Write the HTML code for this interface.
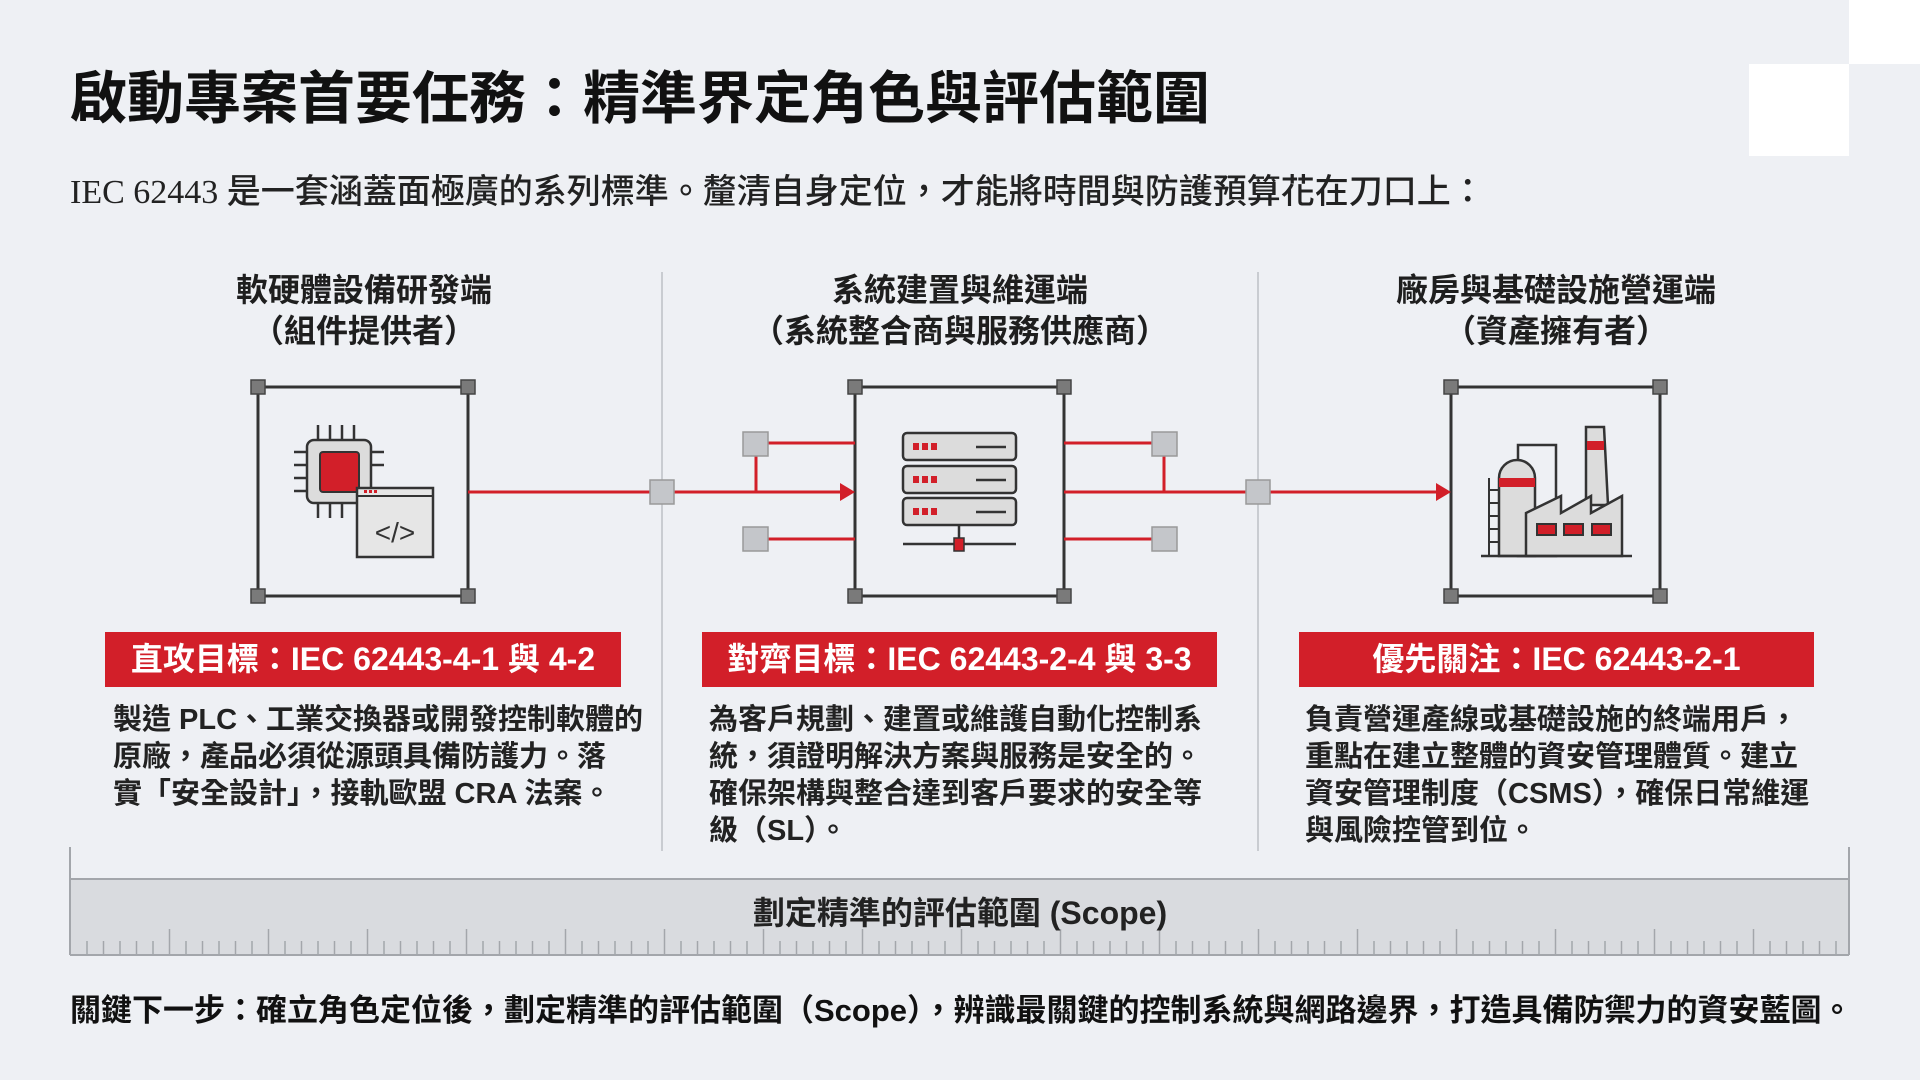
<!DOCTYPE html>
<html><head><meta charset="utf-8"><style>
body{margin:0;width:1920px;height:1080px;background:#eef0f4;overflow:hidden;position:relative;font-family:"Liberation Sans","Noto Sans CJK TC",sans-serif;color:#1e1e1e}
.a{position:absolute;white-space:nowrap}
.h{font-size:32px;font-weight:700;text-align:center;width:600px;line-height:41px}
.bar{position:absolute;top:632px;height:55px;background:#d21f29;color:#fff;font-size:32px;font-weight:700;text-align:center;line-height:55px}
.b{position:absolute;top:702px;font-size:29px;font-weight:700;line-height:37px;white-space:nowrap;color:#222}
</style></head><body>
<div class="a" style="left:1849px;top:0;width:71px;height:64px;background:#fff"></div>
<div class="a" style="left:1749px;top:64px;width:100px;height:92px;background:#fff"></div>
<div class="a" style="left:70px;top:64px;font-size:57px;font-weight:700;line-height:70px;color:#111">啟動專案首要任務：精準界定角色與評估範圍</div>
<div class="a" style="left:70px;top:170px;font-size:34px;line-height:44px;color:#222"><span style="font-family:'Liberation Serif',serif">IEC 62443 </span><span style="font-weight:500">是一套涵蓋面極廣的系列標準。釐清自身定位，才能將時間與防護預算花在刀口上：</span></div>

<div class="a h" style="left:64px;top:270px">軟硬體設備研發端<br>（組件提供者）</div>
<div class="a h" style="left:660px;top:270px">系統建置與維運端<br>（系統整合商與服務供應商）</div>
<div class="a h" style="left:1256px;top:270px">廠房與基礎設施營運端<br>（資產擁有者）</div>

<svg class="a" style="left:0;top:0" width="1920" height="1080">
<g stroke="#c9ccd1" stroke-width="2"><line x1="662" y1="272" x2="662" y2="851"/><line x1="1258" y1="272" x2="1258" y2="851"/></g>
<g stroke="#333" stroke-width="3" fill="none">
<rect x="258" y="387" width="210" height="209"/><rect x="855" y="387" width="209" height="209"/><rect x="1451" y="387" width="209" height="209"/></g>
<g fill="#7a7a7a" stroke="#444" stroke-width="1.5">
<rect x="251" y="380" width="14" height="14"/><rect x="461" y="380" width="14" height="14"/><rect x="251" y="589" width="14" height="14"/><rect x="461" y="589" width="14" height="14"/>
<rect x="848" y="380" width="14" height="14"/><rect x="1057" y="380" width="14" height="14"/><rect x="848" y="589" width="14" height="14"/><rect x="1057" y="589" width="14" height="14"/>
<rect x="1444" y="380" width="14" height="14"/><rect x="1653" y="380" width="14" height="14"/><rect x="1444" y="589" width="14" height="14"/><rect x="1653" y="589" width="14" height="14"/></g>
<g stroke="#d21f29" stroke-width="3" fill="none">
<line x1="468" y1="492" x2="842" y2="492"/><line x1="1064" y1="492" x2="1438" y2="492"/>
<line x1="756" y1="443" x2="855" y2="443"/><line x1="756" y1="539" x2="855" y2="539"/><line x1="756" y1="443" x2="756" y2="492"/>
<line x1="1064" y1="443" x2="1164" y2="443"/><line x1="1064" y1="539" x2="1164" y2="539"/><line x1="1164" y1="443" x2="1164" y2="492"/></g>
<polygon points="840,483 855,492 840,501" fill="#d21f29"/><polygon points="1436,483 1451,492 1436,501" fill="#d21f29"/>
<g fill="#c4c6ca" stroke="#999" stroke-width="1.5">
<rect x="650" y="480" width="24" height="24"/><rect x="1246" y="480" width="24" height="24"/>
<rect x="743" y="432" width="25" height="24"/><rect x="743" y="527" width="25" height="24"/>
<rect x="1152" y="432" width="25" height="24"/><rect x="1152" y="527" width="25" height="24"/></g>
<g stroke="#333" stroke-width="2.5" fill="none">
<line x1="318" y1="425" x2="318" y2="440"/><line x1="330" y1="425" x2="330" y2="440"/><line x1="342" y1="425" x2="342" y2="440"/><line x1="354" y1="425" x2="354" y2="440"/>
<line x1="318" y1="503" x2="318" y2="518"/><line x1="330" y1="503" x2="330" y2="518"/><line x1="342" y1="503" x2="342" y2="518"/>
<line x1="294" y1="452" x2="307" y2="452"/><line x1="294" y1="465" x2="307" y2="465"/><line x1="294" y1="478" x2="307" y2="478"/><line x1="294" y1="491" x2="307" y2="491"/>
<line x1="371" y1="452" x2="384" y2="452"/><line x1="371" y1="465" x2="384" y2="465"/></g>
<rect x="307" y="440" width="64" height="63" rx="7" fill="#dcdcdc" stroke="#333" stroke-width="2.5"/>
<rect x="320" y="452" width="39" height="40" rx="3" fill="#d21f29" stroke="#333" stroke-width="2"/>
<rect x="357" y="488" width="76" height="69" fill="#e6e6e6" stroke="#333" stroke-width="2.5"/>
<line x1="357" y1="496" x2="433" y2="496" stroke="#333" stroke-width="2"/>
<g fill="#d21f29"><rect x="364" y="490" width="3" height="3"/><rect x="369" y="490" width="3" height="3"/><rect x="374" y="490" width="3" height="3"/></g>
<text x="395" y="542" font-size="28" text-anchor="middle" fill="#333" font-family="Liberation Sans,sans-serif">&lt;/&gt;</text>
<g fill="#dcdcdc" stroke="#333" stroke-width="2.5">
<rect x="903" y="433" width="113" height="27" rx="4"/><rect x="903" y="466" width="113" height="27" rx="4"/><rect x="903" y="498" width="113" height="27" rx="4"/></g>
<g fill="#d21f29"><rect x="913" y="443" width="6" height="7"/><rect x="922" y="443" width="6" height="7"/><rect x="931" y="443" width="6" height="7"/>
<rect x="913" y="476" width="6" height="7"/><rect x="922" y="476" width="6" height="7"/><rect x="931" y="476" width="6" height="7"/>
<rect x="913" y="508" width="6" height="7"/><rect x="922" y="508" width="6" height="7"/><rect x="931" y="508" width="6" height="7"/></g>
<g stroke="#333" stroke-width="2.5"><line x1="976" y1="447" x2="1006" y2="447"/><line x1="976" y1="480" x2="1006" y2="480"/><line x1="976" y1="512" x2="1006" y2="512"/>
<line x1="959" y1="525" x2="959" y2="544"/><line x1="903" y1="544" x2="1016" y2="544"/></g>
<rect x="954" y="538" width="10" height="13" fill="#d21f29" stroke="#333" stroke-width="1.5"/>
<g stroke="#333" stroke-width="2.5" fill="#dcdcdc">
<rect x="1518" y="445" width="38" height="111" fill="none"/>
<path d="M1499 556 V478 A18 18 0 0 1 1535 478 V556 Z"/>
<path d="M1586 556 V427 H1604 L1608 505 H1586Z"/>
<path d="M1526 556 V513 L1561 496 V513 L1591 496 V513 L1622 496 V556 Z"/>
<line x1="1481" y1="556" x2="1632" y2="556"/>
<path d="M1489 478 V556 M1499 478 V556 M1489 490 H1499 M1489 503 H1499 M1489 516 H1499 M1489 529 H1499 M1489 542 H1499" fill="none" stroke-width="2"/></g>
<rect x="1499" y="478" width="36" height="9" fill="#d21f29"/><rect x="1587" y="441" width="17" height="9" fill="#d21f29"/>
<g fill="#d21f29" stroke="#333" stroke-width="2"><rect x="1537" y="524" width="19" height="11"/><rect x="1564" y="524" width="19" height="11"/><rect x="1592" y="524" width="19" height="11"/></g>
<rect x="70" y="879" width="1779" height="76" fill="#d9dbdf"/>
<g stroke="#a3a6ab" stroke-width="2"><line x1="70" y1="879" x2="1849" y2="879"/><line x1="70" y1="955" x2="1849" y2="955"/><line x1="70" y1="847" x2="70" y2="955"/><line x1="1849" y1="847" x2="1849" y2="955"/></g>
<g stroke="#a3a6ab" stroke-width="1.5" id="ticks"></g>
</svg>
<div class="a" style="left:0;width:1920px;top:892px;text-align:center;font-size:32px;font-weight:700;line-height:42px;color:#222">劃定精準的評估範圍 (Scope)</div>

<div class="bar" style="left:105px;width:516px">直攻目標：IEC 62443-4-1 與 4-2</div>
<div class="bar" style="left:702px;width:515px">對齊目標：IEC 62443-2-4 與 3-3</div>
<div class="bar" style="left:1299px;width:515px">優先關注：IEC 62443-2-1</div>

<div class="b" style="left:113px">製造 PLC、工業交換器或開發控制軟體的<br>原廠，產品必須從源頭具備防護力。落<br>實「安全設計」，接軌歐盟 CRA 法案。</div>
<div class="b" style="left:709px">為客戶規劃、建置或維護自動化控制系<br>統，須證明解決方案與服務是安全的。<br>確保架構與整合達到客戶要求的安全等<br>級（SL）。</div>
<div class="b" style="left:1305px">負責營運產線或基礎設施的終端用戶，<br>重點在建立整體的資安管理體質。建立<br>資安管理制度（CSMS），確保日常維運<br>與風險控管到位。</div>

<div class="a" style="left:70px;top:990px;font-size:31px;font-weight:700;line-height:42px;color:#111">關鍵下一步：確立角色定位後，劃定精準的評估範圍（Scope），辨識最關鍵的控制系統與網路邊界，打造具備防禦力的資安藍圖。</div>
<script>
var g=document.getElementById('ticks'),s='';
for(var i=0;;i++){var x=87+i*16.5;if(x>1845)break;var maj=(i%6==5);s+='<line x1="'+x+'" y1="'+(maj?929:941)+'" x2="'+x+'" y2="955"/>';}
g.innerHTML=s;
</script>
</body></html>
